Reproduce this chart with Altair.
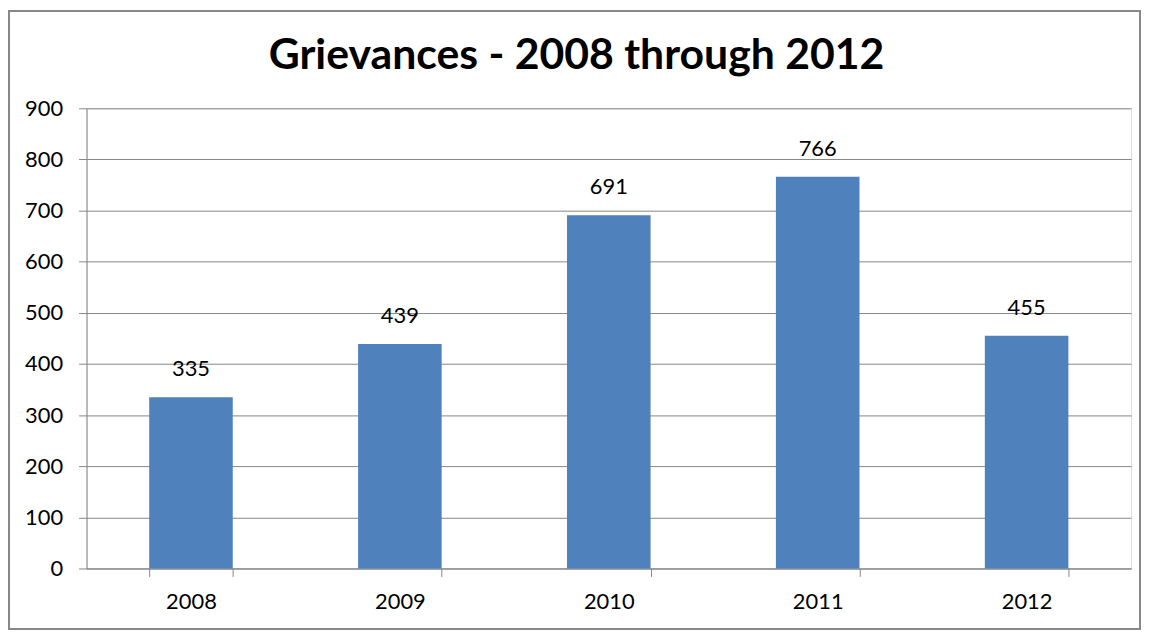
import altair as alt
import pandas as pd

years = ["2008", "2009", "2010", "2011", "2012"]
counts = [335, 439, 691, 766, 455]
title_text = ["Grievances - 2008 through 2012"]

df = pd.DataFrame({"year": years, "count": counts})

FONT = "Lato"
GRAY = "#868686"
FS = 22

base = alt.Chart(df)

x = alt.X("year:N", title=None,
          scale=alt.Scale(paddingInner=0.6, paddingOuter=0.3),
          axis=alt.Axis(labelAngle=0, labelFontSize=FS, labelFont=FONT, labelColor="#000000",
                        tickBand="extent", tickSize=8, tickColor=GRAY, domainColor=GRAY,
                        labelPadding=15, grid=False))
y = alt.Y("count:Q", title=None,
          scale=alt.Scale(domain=[0, 900], nice=False),
          axis=alt.Axis(values=list(range(0, 1000, 100)), labelFontSize=FS, labelFont=FONT,
                        labelColor="#000000", tickSize=8, tickColor=GRAY, domainColor=GRAY,
                        gridColor=GRAY, gridOpacity=1, labelPadding=16))

bars = base.mark_bar(color="#4F81BD").encode(x=x, y=y)
labels = base.mark_text(fontSize=FS, font=FONT, color="#000000", baseline="middle", dy=-28).encode(
    x=alt.X("year:N"), y=alt.Y("count:Q"), text=alt.Text("count:Q"))

title = alt.Chart(pd.DataFrame({"t": title_text})).mark_text(
    fontSize=43, font=FONT, fontWeight="bold", color="#000000",
    align="center", baseline="alphabetic").encode(
    text="t:N", x=alt.value(493), y=alt.value(-40))

border = alt.Chart(pd.DataFrame({"a": [0]})).mark_rect(
    fill=None, stroke="#888888", strokeWidth=2, clip=False).encode(
    x=alt.value(-78), x2=alt.value(1060), y=alt.value(-98), y2=alt.value(524))

chart = alt.layer(bars, labels, title, border).properties(
    width=1051, height=463,
    padding={"left": 79, "top": 99, "right": 12, "bottom": 64},
    autosize=alt.AutoSizeParams(type="none"),
).configure_view(stroke=None).configure(background="white")

chart.save("out.html", embed_options={"renderer": "svg", "actions": False})
